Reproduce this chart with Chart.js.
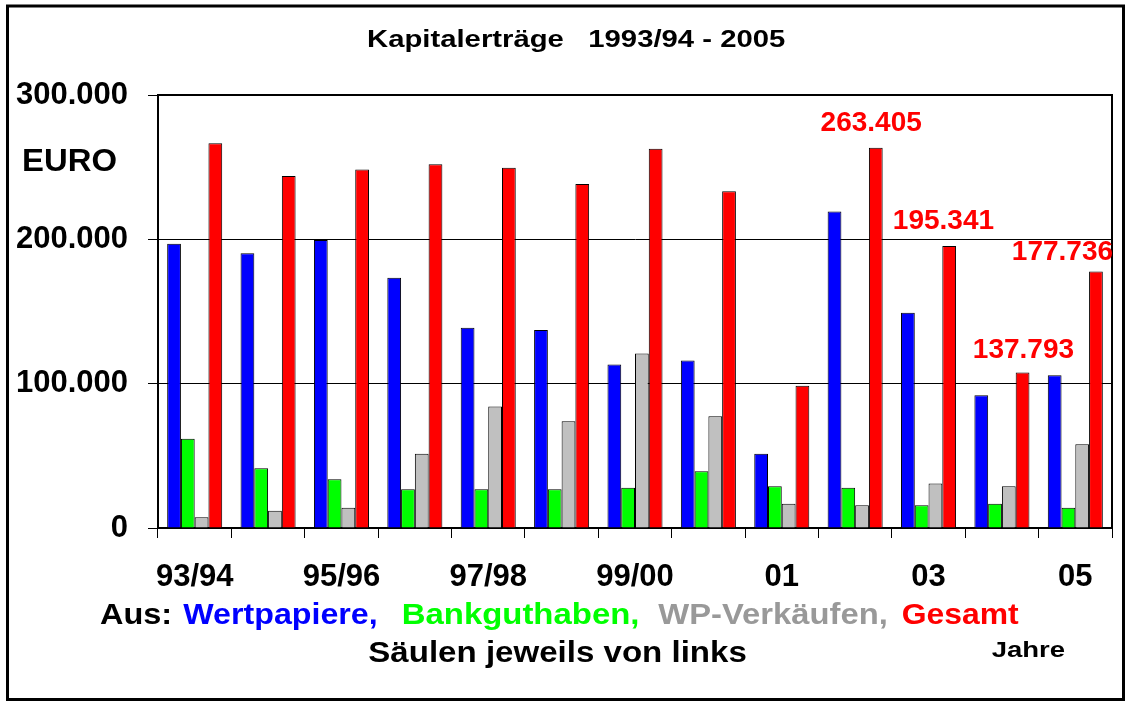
<!DOCTYPE html>
<html>
<head>
<meta charset="utf-8">
<script src="https://cdn.jsdelivr.net/npm/chart.js@4/dist/chart.umd.min.js"></script>
<style>
  html, body { margin: 0; padding: 0; background: #ffffff; }
  #wrap { position: relative; width: 1125px; height: 702px; }
  canvas { display: block; }
</style>
</head>
<body>
<div id="wrap"><canvas id="c" width="1125" height="702"></canvas></div>
<script>
// ---- data (EUR) ----
const categories = ['93/94','94/95','95/96','96/97','97/98','98/99','99/00','00/01','01','02','03','04','05'];
const shownTickLabels = ['93/94','','95/96','','97/98','','99/00','','01','','03','','05'];
const wertpapiere   = [197000, 190400, 199500, 173400, 138700, 137100, 113300, 116100, 51400, 219300, 149100, 92000, 105900];
const bankguthaben  = [61800, 41400, 33800, 26900, 26900, 26900, 27900, 39400, 29000, 27900, 15800, 16800, 14000];
const wpVerkaeufe   = [7500, 11900, 14000, 51400, 84200, 74000, 120900, 77500, 16800, 15800, 30800, 29000, 58100];
const gesamt        = [266500, 243800, 248400, 252100, 249600, 238300, 262800, 233400, 98500, 263405, 195341, 107800, 177736];
const yTickValues   = [0, 100000, 200000, 300000];
const annotIndex    = [9, 10, 11, 12];
const annotText     = ['263.405', '195.341', '137.793', '177.736'];
const seriesNames   = ['Wertpapiere', 'Bankguthaben', 'WP-Verkäufen', 'Gesamt'];
const titleText     = 'Kapitalerträge   1993/94 - 2005';
const unitText      = 'EURO';
const legendPrefix  = 'Aus:';
const noteText      = 'Säulen jeweils von links';
const xAxisText     = 'Jahre';

const FONT = "'Liberation Sans', Arial, Helvetica, sans-serif";

function stretchText(ctx, text, x, y, size, color, sx) {
  ctx.save();
  ctx.font = 'bold ' + size + 'px ' + FONT;
  ctx.fillStyle = color;
  ctx.textAlign = 'left';
  ctx.textBaseline = 'alphabetic';
  ctx.translate(x, y);
  ctx.scale(sx, 1);
  ctx.fillText(text, 0, 0);
  ctx.restore();
}

const decor = {
  id: 'decor',
  beforeDraw(chart) {
    const ctx = chart.ctx;
    ctx.save();
    ctx.fillStyle = '#ffffff';
    ctx.fillRect(0, 0, chart.width, chart.height);
    ctx.restore();
  },
  afterDraw(chart) {
    const ctx = chart.ctx;
    const a = chart.chartArea;
    // plot frame top/right
    ctx.save();
    ctx.strokeStyle = '#000';
    ctx.lineWidth = 2;
    ctx.beginPath();
    ctx.moveTo(a.left, a.top);
    ctx.lineTo(a.right, a.top);
    ctx.lineTo(a.right, a.bottom);
    ctx.stroke();
    // outer frame
    ctx.lineWidth = 3;
    ctx.strokeRect(7.5, 6, 1116, 693.5);
    ctx.restore();

    // title
    stretchText(ctx, titleText, 367, 46.5, 24, '#000', 1.22);
    // unit
    stretchText(ctx, unitText, 22, 171, 31, '#000', 1.06);

    // value annotations anchored to the red bars
    const meta = chart.getDatasetMeta(3);
    const offsets = [[-4.6, 27], [-5.7, 27], [0.9, 24], [-33.5, 21.7]];
    ctx.save();
    ctx.font = 'bold 28px ' + FONT;
    ctx.fillStyle = '#ff0000';
    ctx.textAlign = 'center';
    ctx.textBaseline = 'alphabetic';
    annotIndex.forEach((idx, i) => {
      const bar = meta.data[idx];
      const cx = bar.x + offsets[i][0];
      const cy = bar.y - offsets[i][1];
      ctx.fillText(annotText[i], cx, cy + 10);
    });
    ctx.restore();

    // legend-like text line
    const base = 624;
    stretchText(ctx, legendPrefix, 100, base, 29, '#000', 1.12);
    stretchText(ctx, seriesNames[0] + ',', 183.3, base, 29, '#0000ff', 1.11);
    stretchText(ctx, seriesNames[1] + ',', 401.7, base, 29, '#00ff00', 1.135);
    stretchText(ctx, seriesNames[2] + ',', 658.3, base, 29, '#999999', 1.13);
    stretchText(ctx, seriesNames[3], 901.7, base, 29, '#ff0000', 1.1);
    stretchText(ctx, noteText, 368.3, 662, 29, '#000', 1.14);
    stretchText(ctx, xAxisText, 991.7, 657, 22, '#000', 1.25);
  }
};

new Chart(document.getElementById('c'), {
  type: 'bar',
  data: {
    labels: categories,
    datasets: [
      { label: seriesNames[0], data: wertpapiere,  backgroundColor: '#0000ff', borderColor: '#000', borderWidth: 1 },
      { label: seriesNames[1], data: bankguthaben, backgroundColor: '#00ff00', borderColor: '#000', borderWidth: 1 },
      { label: seriesNames[2], data: wpVerkaeufe,  backgroundColor: '#c0c0c0', borderColor: '#000', borderWidth: 1 },
      { label: seriesNames[3], data: gesamt,       backgroundColor: '#ff0000', borderColor: '#000', borderWidth: 1 }
    ]
  },
  options: {
    responsive: false,
    animation: false,
    devicePixelRatio: 1,
    layout: { padding: { top: 95, right: 13, left: 0, bottom: 0 } },
    datasets: { bar: { categoryPercentage: 0.75, barPercentage: 1.0 } },
    plugins: {
      legend: { display: false },
      title: { display: false },
      tooltip: { enabled: false }
    },
    scales: {
      x: {
        offset: true,
        grid: { display: true, offset: true, drawOnChartArea: false, drawTicks: true, tickLength: 10, color: '#000', lineWidth: 1 },
        border: { display: true, color: '#000', width: 2 },
        ticks: {
          autoSkip: false, maxRotation: 0, minRotation: 0, padding: 21,
          color: '#000', font: { family: FONT, size: 31, weight: 'bold' },
          callback: (v, i) => shownTickLabels[i]
        },
        afterFit: (s) => { s.height = 174; }
      },
      y: {
        min: 0, max: 300000,
        afterBuildTicks: (s) => { s.ticks = yTickValues.map(v => ({ value: v })); },
        grid: { display: true, drawTicks: true, tickLength: 10, color: '#000', lineWidth: 1 },
        border: { display: true, color: '#000', width: 2 },
        ticks: {
          padding: 20, color: '#000', font: { family: FONT, size: 31, weight: 'bold' },
          callback: (v) => v === 0 ? '0' : v.toLocaleString('de-DE')
        },
        afterFit: (s) => { s.width = 158; }
      }
    }
  },
  plugins: [decor]
});
</script>
</body>
</html>
